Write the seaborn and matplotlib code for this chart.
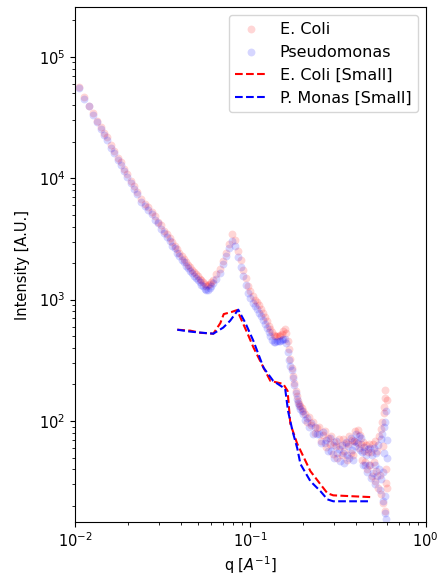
"""Scattering curves: E. Coli vs Pseudomonas, full range and small-angle."""

import matplotlib

matplotlib.use("Agg")
import matplotlib.pyplot as plt
import seaborn as sns

# shared q grid of the measured curves [1/A]
q_data = [
    0.0105, 0.0113, 0.0120, 0.0127, 0.0134, 0.0141, 0.0147, 0.0152, 0.0161,
    0.0167, 0.0176, 0.0183, 0.0191, 0.0198, 0.0209, 0.0217, 0.0226, 0.0238,
    0.0250, 0.0262, 0.0274, 0.0286, 0.0298, 0.0310, 0.0322, 0.0334, 0.0346,
    0.0358, 0.0370, 0.0382, 0.0394, 0.0406, 0.0418, 0.0430, 0.0442, 0.0454,
    0.0466, 0.0478, 0.0490, 0.0502, 0.0514, 0.0526, 0.0538, 0.0550, 0.0562,
    0.0574, 0.0586, 0.0598,
    0.061, 0.064, 0.067, 0.070, 0.073, 0.076, 0.079, 0.082, 0.085, 0.088,
    0.091, 0.094, 0.097, 0.100, 0.103, 0.106, 0.109, 0.112, 0.115, 0.118,
    0.121, 0.124, 0.127, 0.130, 0.133, 0.136, 0.139, 0.142, 0.145, 0.148,
    0.151, 0.154, 0.157, 0.160, 0.163, 0.166, 0.169, 0.172, 0.175, 0.178,
    0.181, 0.184, 0.187, 0.190, 0.193, 0.196, 0.199,
    0.205, 0.211, 0.217, 0.223, 0.229, 0.235, 0.241, 0.247, 0.253, 0.259,
    0.265, 0.271, 0.277, 0.283, 0.289, 0.295, 0.301, 0.307, 0.313, 0.319,
    0.325, 0.331, 0.337, 0.343, 0.349, 0.355, 0.361, 0.367, 0.373, 0.379,
    0.385, 0.391, 0.397, 0.403, 0.409, 0.415, 0.421, 0.427, 0.433, 0.439,
    0.445, 0.451, 0.457, 0.463, 0.469, 0.475, 0.481, 0.487, 0.493, 0.499,
    0.505, 0.511, 0.517, 0.523, 0.529, 0.535, 0.541, 0.547, 0.553, 0.559,
    0.565, 0.571, 0.577, 0.583, 0.589, 0.595,
    0.574, 0.580, 0.586, 0.592, 0.598, 0.603,
]

ecoli_I = [
    56000, 46500, 39000, 34200, 29800, 26500, 23600, 21800, 18800,
    16900, 14800, 13500, 12000, 10900, 9500, 8650, 7750, 6750,
    6150, 5800, 5250, 4900, 4400, 4100, 3700, 3480, 3200,
    3000, 2760, 2600, 2400, 2300, 2150, 2060, 1940, 1860,
    1770, 1700, 1620, 1560, 1490, 1440, 1390, 1340, 1300,
    1310, 1350, 1400,
    1460, 1620, 1780, 2080, 2420, 2860, 3450, 3080, 2520, 2100,
    1760, 1500, 1300, 1180, 1080, 1000, 950, 900, 840, 780,
    720, 670, 610, 575, 540, 515, 505, 500, 502, 508,
    525, 548, 570, 535, 460, 390, 325, 272, 235, 206,
    178, 160, 146, 139, 132, 127, 121,
    115, 99, 107, 92, 98, 79, 87, 90, 69, 77,
    83, 61, 73, 65, 75, 53, 67, 62, 50, 71,
    62, 52, 71, 57, 66, 48, 65, 75, 55, 70,
    52, 68, 82, 67, 84, 60, 76, 65, 48, 67,
    57, 46, 64, 40, 56, 65, 43, 56, 35, 65,
    46, 32, 68, 39, 57, 28, 75, 36, 86, 25,
    99, 21, 116, 18, 156, 31,
    62, 130, 180, 40, 150, 28,
]

pmonas_I = [
    55000, 45200, 39400, 33200, 29000, 25300, 22700, 20600, 17800,
    16100, 14000, 12800, 11400, 10300, 9050, 8200, 7350, 6400,
    5900, 5450, 5100, 4550, 4250, 3800, 3560, 3250, 3050,
    2780, 2640, 2420, 2300, 2120, 2040, 1900, 1830, 1720,
    1660, 1570, 1520, 1440, 1390, 1320, 1290, 1230, 1190,
    1200, 1250, 1300,
    1360, 1490, 1660, 1950, 2280, 2650, 3050, 2780, 2250, 1860,
    1560, 1330, 1140, 1030, 940, 880, 830, 780, 730, 675,
    625, 585, 545, 500, 462, 445, 448, 452, 455, 458,
    465, 472, 478, 440, 370, 318, 286, 262, 226, 198,
    170, 152, 140, 133, 126, 121, 115,
    102, 106, 89, 97, 78, 90, 78, 78, 66, 81,
    66, 70, 57, 72, 57, 64, 50, 68, 55, 59,
    47, 64, 54, 45, 67, 52, 62, 50, 72, 58,
    48, 69, 62, 78, 66, 75, 58, 73, 56, 43,
    61, 43, 52, 38, 59, 43, 60, 34, 52, 37,
    60, 43, 30, 54, 35, 64, 40, 27, 71, 33,
    78, 22, 55, 17.5, 98, 15.6,
    38, 90, 24, 120, 50, 70,
]

# small-angle (short detector distance) curves
ecoli_small_q = [0.0383, 0.0454, 0.0518, 0.0615, 0.0674, 0.0705, 0.0780,
                 0.0840, 0.0961, 0.104, 0.119, 0.130, 0.154, 0.163, 0.169,
                 0.185, 0.220, 0.251, 0.275, 0.297, 0.485]
ecoli_small_I = [565, 555, 533, 524, 640, 760, 790,
                 820, 530, 405, 274, 214, 202, 177, 95,
                 65, 38.6, 30.1, 25.4, 24.4, 23.6]

pmonas_small_q = [0.0383, 0.0454, 0.0518, 0.0615, 0.070, 0.0767, 0.0853,
                  0.0935, 0.104, 0.119, 0.135, 0.158, 0.164, 0.174, 0.185,
                  0.193, 0.220, 0.251, 0.275, 0.297, 0.485]
pmonas_small_I = [565, 545, 535, 524, 588, 670, 826,
                  646, 458, 274, 214, 184, 121, 82.6, 59.8,
                  44.2, 31.9, 26.4, 22.6, 21.8, 21.8]

plt.rcParams["font.size"] = 10.5

fig, ax = plt.subplots(figsize=(4.4, 5.75), dpi=100)
fig.subplots_adjust(left=0.1705, right=0.9675, top=0.9873, bottom=0.0927)
ax.set_xscale("log")
ax.set_yscale("log")

sns.scatterplot(x=q_data, y=ecoli_I, color="red", alpha=0.16, s=32,
                linewidth=0, label="E. Coli", ax=ax)
sns.scatterplot(x=q_data, y=pmonas_I, color="blue", alpha=0.16, s=32,
                linewidth=0, label="Pseudomonas", ax=ax)
sns.lineplot(x=ecoli_small_q, y=ecoli_small_I, color="red", linestyle="--",
             sort=False, estimator=None, label="E. Coli [Small]", ax=ax)
sns.lineplot(x=pmonas_small_q, y=pmonas_small_I, color="blue", linestyle="--",
             sort=False, estimator=None, label="P. Monas [Small]", ax=ax)

ax.set_xlim(1e-2, 1)
ax.set_ylim(14.8, 2.56e5)
ax.set_xlabel(r"q [$A^{-1}$]", labelpad=3)
ax.set_ylabel("Intensity [A.U.]", labelpad=6)
ax.legend(loc="upper right", fontsize=11.5)

fig.savefig("out.png", dpi=100)
